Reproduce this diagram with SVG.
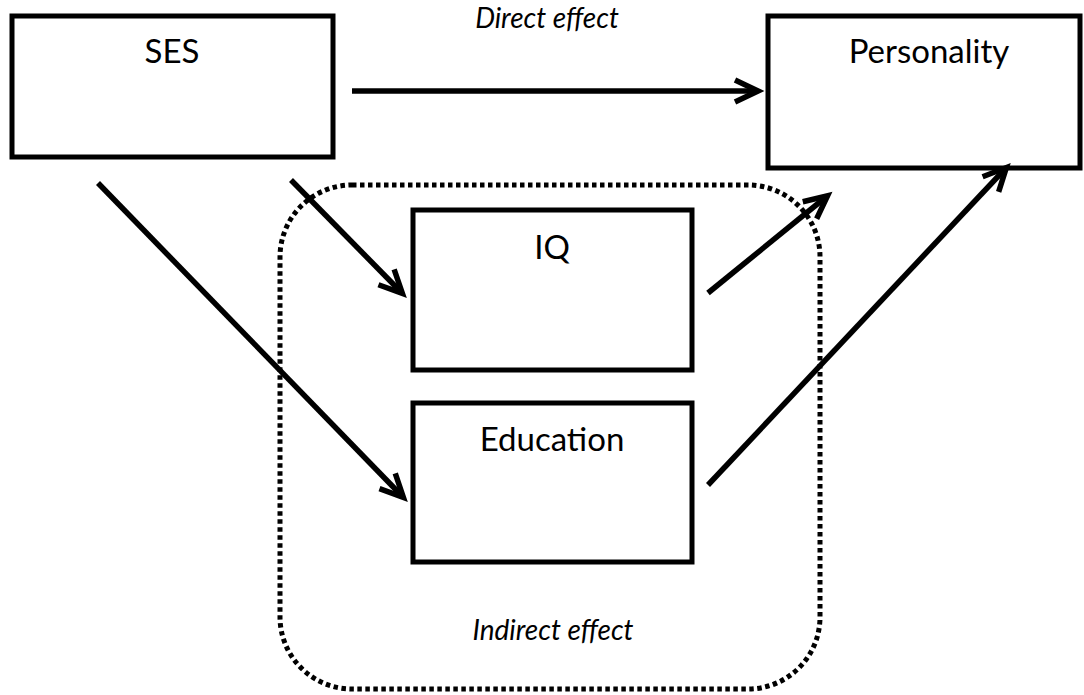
<svg xmlns="http://www.w3.org/2000/svg" width="1084" height="695" viewBox="0 0 1084 695">
<style>
.box{fill:#fff;stroke:#000;stroke-width:5}
.lbl{font-family:Lato,"Liberation Sans",sans-serif;font-size:33px;fill:#000;text-anchor:middle}
.it{font-family:Lato,"Liberation Sans",sans-serif;font-size:28px;font-style:italic;fill:#000;text-anchor:middle}
.arr{stroke:#000;stroke-width:5.5;fill:none;marker-end:url(#ah)}
</style>
<defs>
<marker id="ah" markerUnits="userSpaceOnUse" viewBox="-30 -16 36 32" markerWidth="36" markerHeight="32" refX="0" refY="0" orient="auto" overflow="visible">
<path d="M -21 -11 L 2 0 L -21 11" fill="none" stroke="#000" stroke-width="5.5" stroke-linejoin="miter"/>
</marker>
</defs>
<rect x="280" y="185" width="540" height="504" rx="72" ry="72" fill="none" stroke="#000" stroke-width="5" stroke-dasharray="4.5 3.5"/>
<g id="ses"><rect class="box" x="12" y="16" width="321" height="141"/><text class="lbl" x="172" y="63">SES</text></g>
<g id="personality"><rect class="box" x="768" y="16" width="312" height="152"/><text class="lbl" x="929" y="63">Personality</text></g>
<g id="iq"><rect class="box" x="413" y="210" width="279" height="160"/><text class="lbl" x="552" y="259">IQ</text></g>
<g id="education"><rect class="box" x="413" y="403" width="279" height="159"/><text class="lbl" x="552" y="451">Education</text></g>
<text class="it" x="547" y="28">Direct effect</text>
<text class="it" x="553" y="640">Indirect effect</text>
<g id="connectors">
<line class="arr" x1="352" y1="91" x2="756" y2="91"/>
<line class="arr" x1="291" y1="180" x2="401" y2="292"/>
<line class="arr" x1="98" y1="183" x2="402" y2="496"/>
<line class="arr" x1="708" y1="293" x2="826" y2="197"/>
<line class="arr" x1="708" y1="485" x2="1005" y2="169"/>
</g>
</svg>
